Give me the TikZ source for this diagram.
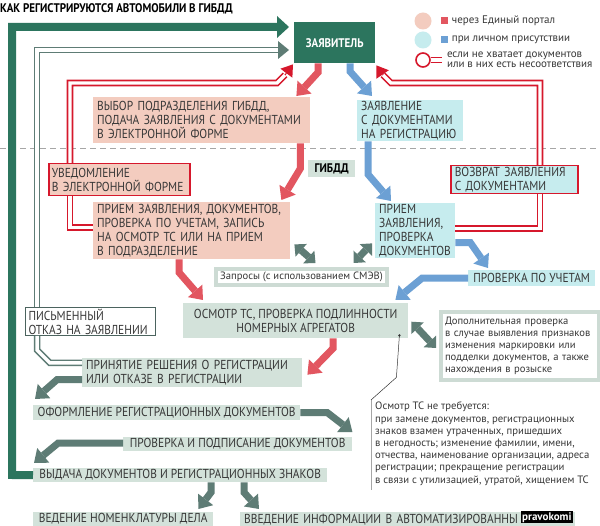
\documentclass[tikz,border=0pt]{standalone}
\usepackage{fontspec}
\setmainfont{PT Sans}[FakeStretch=0.88]
\newfontfamily\notefont{PT Sans}
\usetikzlibrary{arrows.meta,positioning,calc}

\definecolor{appgreen}{RGB}{44,117,94}
\definecolor{flowgray}{RGB}{94,124,117}
\definecolor{flowred}{RGB}{226,86,96}
\definecolor{flowblue}{RGB}{108,160,212}
\definecolor{retred}{RGB}{214,24,44}
\definecolor{pinkfill}{RGB}{243,204,191}
\definecolor{cyanfill}{RGB}{198,236,238}
\definecolor{greenfill}{RGB}{211,226,218}
\definecolor{frame}{RGB}{205,219,212}
\definecolor{txtgray}{RGB}{55,55,55}

\tikzset{
  box/.style={anchor=north west, inner xsep=4pt, inner ysep=1pt, align=left,
    text=txtgray, font=\fontsize{13}{14}\selectfont},
  pinkbox/.style={box, fill=pinkfill},
  cyanbox/.style={box, fill=cyanfill},
  greenbox/.style={box, fill=greenfill},
  retframe/.style={draw=retred, line width=1.5pt},
  notebox/.style={box, fill=white, draw=frame, line width=4pt,
    font=\notefont\fontsize{10.6}{12}\selectfont},
  flow/.style={line width=7pt, line join=miter,
    -{Triangle[width=19pt,length=12pt,line width=0pt]}},
  redflow/.style={flow, draw=flowred},
  blueflow/.style={flow, draw=flowblue},
  grayflow/.style={flow, draw=flowgray},
  twoway/.style={line width=7pt, draw=flowgray,
    {Triangle[width=17pt,length=9pt,line width=0pt]}-{Triangle[width=17pt,length=9pt,line width=0pt]}},
  retline/.style={draw=retred, double=white, line width=1.6pt, double distance=3.4pt, line join=miter},
  rettip/.style={draw=retred, line width=1pt, -{Triangle[width=15pt,length=11pt,line width=0pt]}},
  refuse/.style={draw=flowgray, double=white, line width=1.5pt, double distance=3.5pt, line join=miter},
  refusetip/.style={draw=flowgray, line width=1pt, -{Triangle[width=18pt,length=11pt,line width=0pt]}},
  keytext/.style={anchor=west, inner sep=0pt, align=left, text=txtgray,
    font=\notefont\fontsize{11}{10.5}\selectfont},
  keysq/.style={minimum size=7pt, inner sep=0pt},
}

\begin{document}
\begin{tikzpicture}[x=1pt,y=-1pt]
\useasboundingbox (0,0) rectangle (600,526);
\fill[white] (0,0) rectangle (600,526);

% title
\node[anchor=north west, inner sep=0pt, font=\bfseries\fontsize{12.5}{14}\selectfont] (title) at (0,3)
  {КАК РЕГИСТРИРУЮТСЯ АВТОМОБИЛИ В ГИБДД};

% border between applicant and GIBDD
\draw[gray!70, line width=1pt, dash pattern=on 6pt off 4pt] (0,149) -- (600,149);

% legend
\node[circle, fill=pinkfill, minimum size=17pt, inner sep=0pt] (keyportal) at (423,21) {};
\node[keysq, fill=flowred] (sqportal) at (444,21) {};
\node[keytext, right=4pt of sqportal] (txtportal) {через Единый портал};
\node[circle, fill=cyanfill, minimum size=17pt, inner sep=0pt] (keyself) at (423,40) {};
\node[keysq, fill=flowblue] (sqself) at (444,40) {};
\node[keytext, right=4pt of sqself] (txtself) {при личном присутствии};
\node[circle, draw=retred, line width=1.6pt, minimum size=14pt, inner sep=0pt] (keyret) at (423,60) {};
\draw[retline] (keyret.east) -- ++(11,0) coordinate (keyretend);
\node[keytext, right=5pt of keyretend] (txtret) {если не хватает документов\\или в них есть несоответствия};

% applicant
\node[box, fill=appgreen, text=white, align=center, font=\bfseries\fontsize{12.5}{14}\selectfont,
  minimum width=81pt, minimum height=41pt] (applicant) at (294,22) {ЗАЯВИТЕЛЬ};

% applicant side
\node[pinkbox, text width=209pt, minimum height=46pt] (pick) at (93,97)
  {ВЫБОР ПОДРАЗДЕЛЕНИЯ ГИБДД,\\ПОДАЧА ЗАЯВЛЕНИЯ С ДОКУМЕНТАМИ\\В ЭЛЕКТРОННОЙ ФОРМЕ};
\node[cyanbox, text width=98pt, minimum height=38pt] (claim) at (357,100)
  {ЗАЯВЛЕНИЕ\\С ДОКУМЕНТАМИ\\НА РЕГИСТРАЦИЮ};

% GIBDD side
\node[box, fill=greenfill, text=black, align=center, font=\bfseries\fontsize{12.5}{14}\selectfont,
  minimum width=47pt, minimum height=17pt] (gibdd) at (308,160) {ГИБДД};
\node[pinkbox, retframe, inner xsep=3pt, text width=135pt, minimum height=32pt] (notice) at (48,163)
  {УВЕДОМЛЕНИЕ\\В ЭЛЕКТРОННОЙ ФОРМЕ};
\node[pinkbox, text width=189pt, minimum height=57pt] (accept) at (93,202)
  {ПРИЕМ ЗАЯВЛЕНИЯ, ДОКУМЕНТОВ,\\ПРОВЕРКА ПО УЧЕТАМ, ЗАПИСЬ\\НА ОСМОТР ТС ИЛИ НА ПРИЕМ\\В ПОДРАЗДЕЛЕНИЕ};
\node[cyanbox, retframe, text width=119pt, minimum height=28pt] (giveback) at (450,165)
  {ВОЗВРАТ ЗАЯВЛЕНИЯ\\С ДОКУМЕНТАМИ};
\node[cyanbox, text width=72pt, minimum height=55pt] (check) at (375,203)
  {ПРИЕМ\\ЗАЯВЛЕНИЯ,\\ПРОВЕРКА\\ДОКУМЕНТОВ};
\node[notebox, align=center, minimum width=171pt, minimum height=16pt] (query) at (214,267)
  {Запросы (с использованием СМЭВ)};
\node[cyanbox, align=center, minimum width=127pt, minimum height=16pt] (registry) at (468,270)
  {ПРОВЕРКА ПО УЧЕТАМ};
\node[greenbox, align=center, minimum width=225pt, minimum height=35pt] (inspect) at (183,303)
  {ОСМОТР ТС, ПРОВЕРКА ПОДЛИННОСТИ\\НОМЕРНЫХ АГРЕГАТОВ};
\node[notebox, inner xsep=4pt, text width=150pt, minimum height=68pt] (extra) at (439,310)
  {Дополнительная проверка\\в случае выявления признаков\\изменения маркировки или\\подделки документов, а также\\нахождения в розыске};
\node[box, fill=white, draw=flowgray!80!black, line width=1pt, inner xsep=3pt, text width=124pt, minimum height=28pt] (refusal) at (25,307)
  {ПИСЬМЕННЫЙ\\ОТКАЗ НА ЗАЯВЛЕНИИ};
\node[greenbox, text width=212pt, minimum height=29pt] (decide) at (82,358)
  {ПРИНЯТИЕ РЕШЕНИЯ О РЕГИСТРАЦИИ\\ИЛИ ОТКАЗЕ В РЕГИСТРАЦИИ};
\node[greenbox, align=center, minimum width=267pt, minimum height=15pt] (drawup) at (33,405)
  {ОФОРМЛЕНИЕ РЕГИСТРАЦИОННЫХ ДОКУМЕНТОВ};
\node[greenbox, align=center, minimum width=229pt, minimum height=14pt] (sign) at (123,437)
  {ПРОВЕРКА И ПОДПИСАНИЕ ДОКУМЕНТОВ};
\node[greenbox, align=center, minimum width=294pt, minimum height=14pt] (handout) at (33,468)
  {ВЫДАЧА ДОКУМЕНТОВ И РЕГИСТРАЦИОННЫХ ЗНАКОВ};
\node[greenbox, align=center, minimum width=180pt, minimum height=14pt] (archive) at (33,512)
  {ВЕДЕНИЕ НОМЕНКЛАТУРЫ ДЕЛА};
\node[greenbox, text width=327pt, minimum height=14pt] (database) at (240,512)
  {ВВЕДЕНИЕ ИНФОРМАЦИИ В АВТОМАТИЗИРОВАННЫ};
\node[anchor=north west, fill=black, text=white, inner sep=1pt,
  font=\notefont\bfseries\fontsize{11}{11}\selectfont] (mark) at (521,511) {pravokomi};

% note: no inspection needed
\node[anchor=north west, inner sep=0pt, align=left, text=txtgray,
  font=\notefont\fontsize{10.7}{12.2}\selectfont] (nofix) at (375,402)
  {Осмотр ТС не требуется:\\при замене документов, регистрационных\\знаков взамен утраченных, пришедших\\в негодность; изменение фамилии, имени,\\отчества, наименование организации, адреса\\регистрации; прекращение регистрации\\в связи с утилизацией, утратой, хищением ТС};
\coordinate (notetop) at ($(nofix.north west)+(-4,-2)$);
\draw[gray!70, line width=0.8pt] (notetop) -- ($(nofix.south west)+(-4,4)$);
\coordinate (lead) at ($(inspect.south east)+(-9,-3)$);
\fill[black!80] (lead) circle (1.3pt);
\draw[black!80, line width=0.5pt] (lead) -- ++(-3,42) -- (notetop);

% green: result back to applicant
\draw[draw=appgreen, line width=8pt, line join=miter, -{Triangle[width=22pt,length=12pt,line width=0pt]}]
  (handout.west) -- (12,475) -- (12,27) -- ($(applicant.north west)+(-5,5)$);

% gray double: written refusal
\coordinate (gl) at (37,50);
\draw[refuse] ($(decide.north west)+(0,5)$) -- (50,363) -- (37,350) -- (gl |- refusal.south);
\draw[refuse] (gl |- refusal.north) -- (gl) -- (278,50);
\draw[refusetip] (278,50) -- ($(applicant.north west)+(-5,28)$);

% red double: returns
\coordinate (rl) at (70,83);
\draw[retline] ($(accept.west)+(0,-3)$) -| (rl |- notice.south);
\draw[retline] (rl |- notice.north) -- (rl) -- (277,83) -- (285,75);
\draw[rettip] (285,75) -- ($(applicant.south west)+(-1,1)$);
\coordinate (rr) at (540,83);
\draw[retline] ($(check.east)+(0,-2)$) -| (rr |- giveback.south);
\draw[retline] (rr |- giveback.north) -- (rr) -- (391,83) -- (383,75);
\draw[rettip] (383,75) -- ($(applicant.south east)+(1,2)$);

% portal route
\draw[redflow] ($(applicant.south west)+(24,0)$) -- ++(0,9) -- ($(pick.north east)+(-14,-1)$);
\draw[redflow] ($(pick.south east)+(-10,0)$) -- ++(0,25) -- ($(accept.north east)+(-9,-2)$);
\draw[redflow] ($(accept.south west)+(86,0)$) -- ++(0,13) -- ($(inspect.north west)+(20,-3)$);
\draw[redflow] ($(inspect.south west)+(150,0)$) -- ++(0,10) -- ($(decide.east)+(5,2)$);

% in person route
\draw[blueflow] ($(applicant.south west)+(56,0)$) -- ++(0,8) -- ($(claim.north west)+(15,-4)$);
\draw[blueflow] ($(claim.south west)+(11,0)$) -- ++(0,33) -- ($(check.north west)+(16,-2)$);
\draw[blueflow] ($(check.east)+(0,12)$) -- ++(15,0) -- ($(registry.north west)+(20,-2)$);
\draw[blueflow] (registry.west) -- ++(-46,0) -- ($(inspect.north east)+(-13,-3)$);

% requests
\draw[twoway] ($(accept.south east)+(4,-15)$) -- ($(query.north)+(14,-4)$);
\draw[twoway] ($(check.south west)+(-3,-15)$) -- ($(query.north)+(52,-4)$);
\draw[twoway] ($(inspect.east)+(3,1)$) -- ($(extra.west)+(-3,2)$);

% registration steps
\draw[grayflow] ($(decide.west)+(0,7)$) -- ++(-25,0) -- ($(drawup.north west)+(2,-6)$);
\draw[grayflow] (drawup.east) -- ++(27,0) -- ($(sign.north east)+(0,-5)$);
\draw[grayflow] ($(sign.west)+(0,-1)$) -- ++(-65,0) -- ($(handout.north west)+(1,-5)$);
\draw[grayflow] ($(handout.south west)+(178,0)$) -- ++(0,10) -- ($(archive.north east)+(-15,-3)$);
\draw[grayflow] ($(handout.south west)+(211,0)$) -- ++(0,10) -- ($(database.north west)+(19,-3)$);

\end{tikzpicture}
\end{document}
